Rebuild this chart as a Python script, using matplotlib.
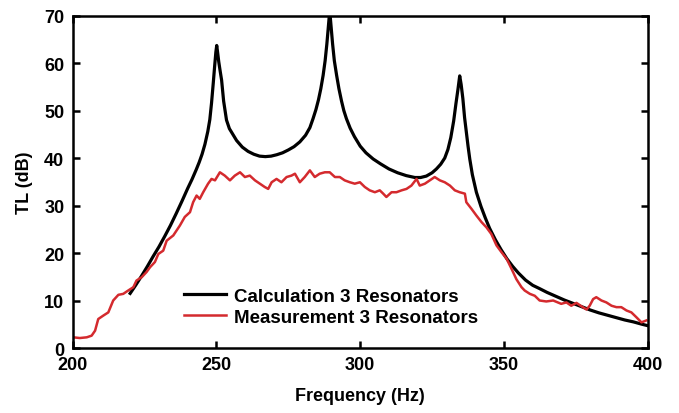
import matplotlib
matplotlib.use("Agg")
import matplotlib.pyplot as plt

# calculated transmission loss, 3 resonators
calc_freq = [220, 222, 224, 226, 228, 230, 232, 234, 236, 238, 240, 241.5, 243, 244, 245,
             246, 247, 247.7, 248.3, 248.9, 249.4, 249.8, 250.1, 250.4, 250.8, 251.3,
             251.8, 252.5, 253.5, 254.5, 255.7, 257, 259, 261, 263, 265, 267, 269, 271,
             273, 275, 277, 279, 281, 282.5, 283.6, 284.6, 285.5, 286.3, 287.1, 287.8,
             288.4, 288.9, 289.4, 289.9, 290.4, 291, 291.8, 292.6, 293.5, 294.3, 295.2,
             296.5, 298, 300, 302, 304.5, 307, 310, 313, 316, 319, 321, 323, 325, 326.5,
             328, 329.4, 330.5, 331.5, 332.5, 333.3, 334, 334.6, 335.1, 335.7, 336.3,
             336.9, 337.5, 338.1, 339, 340.4, 342, 343.5, 345, 347, 349, 351, 353, 355,
             357.5, 360, 362.4, 365, 368, 371, 374, 377, 380, 383, 386, 389, 392, 395,
             398, 400]
calc_tl = [11.5, 13.3, 15.2, 17.2, 19.3, 21.3, 23.5, 25.8, 28.3, 30.9, 33.6, 35.5, 37.6, 39.1, 40.8,
           42.9, 45.6, 48.1, 51.6, 55.8, 59.5, 62.3, 63.7, 62.3, 60.3, 58.3,
           56.4, 52.0, 48.0, 46.2, 45.0, 43.7, 42.3, 41.4, 40.8, 40.4, 40.3, 40.4, 40.7,
           41.1, 41.7, 42.4, 43.4, 44.8, 46.4, 48.3, 50.2, 52.3, 54.6, 57.4, 60.5,
           64.0, 67.5, 71.0, 67.5, 64.0, 60.5, 57.4, 54.6, 52.0, 50.0, 48.3,
           46.3, 44.5, 42.5, 41.1, 39.8, 38.8, 37.7, 36.9, 36.3, 35.9, 35.9, 36.2, 36.9, 37.7,
           38.7, 40.0, 41.8, 44.3, 47.8, 51.5, 54.5, 57.3, 55.5, 52.5, 48.5,
           45.5, 42.5, 39.8, 36.5, 32.8, 29.8, 27.4, 25.2, 22.8, 20.7, 18.8, 17.2, 15.8,
           14.3, 13.2, 12.5, 11.7, 10.9, 10.1, 9.4, 8.7, 8.0, 7.4, 6.9, 6.4, 5.9, 5.5,
           5.0, 4.7]

# measured transmission loss, 3 resonators
meas_freq = [200.2, 202.5, 204.9, 206.6, 207.8, 208.9, 210.6, 212.4, 214.1, 215.9,
             217.6, 219.3, 221.1, 222.2, 224, 225.7, 226.9, 228.6, 229.8, 231.5,
             232.7, 235, 237.3, 239, 240.8, 241.9, 243.1, 244.2, 245.4, 247.1,
             248.3, 249.5, 251.2, 252.9, 254.7, 256.4, 258.2, 259.9, 261.6, 263.4,
             265.1, 266.8, 268, 269.2, 270.9, 272.6, 274.4, 276.1, 277.3, 279,
             280.7, 282.5, 284.2, 285.9, 287.7, 289.4, 291.2, 292.9, 294.6, 296.4,
             298.1, 299.9, 301.6, 303.3, 305.1, 306.8, 308, 309.1, 310.9, 312.6,
             314.4, 316.1, 317.8, 319.6, 320.7, 322.5, 324.2, 325.9, 327.7, 329.4,
             331.2, 332.9, 334.6, 336.4, 336.9, 338.7, 340.4, 342.2, 343.9, 345.6,
             347.4, 349.1, 350.9, 352.6, 354.3, 356.1, 357.2, 359, 360.7, 362.4,
             364.7, 367.1, 369.9, 371.7, 373.4, 375.2, 376.9, 378.7, 379.8, 381,
             382.1, 383.9, 385.6, 387.4, 389.1, 390.8, 392.6, 394.3, 396, 397.8,
             399.5]
meas_tl = [2.25, 2.1, 2.25, 2.6, 3.65, 6.1, 6.8, 7.5, 10, 11.2,
           11.4, 12.1, 12.8, 14.2, 14.9, 16, 17, 18.1, 19.8, 20.5,
           22.6, 23.7, 25.8, 27.6, 28.6, 30.7, 32.1, 31.4, 32.8, 34.6,
           35.6, 35.3, 37.0, 36.3, 35.3, 36.3, 37.0, 36, 36.3, 35.3,
           34.6, 33.9, 33.5, 34.9, 35.6, 34.9, 36, 36.3, 36.7, 34.9,
           36, 37.4, 36, 36.7, 37, 37, 36, 36, 35.3, 34.9,
           34.6, 34.9, 33.9, 33.2, 32.8, 33.2, 32.5, 31.8, 32.8, 32.8,
           33.2, 33.5, 34.2, 35.6, 34.2, 34.6, 35.3, 36, 35.3, 34.9,
           34.2, 33.2, 32.8, 32.5, 30.7, 29.3, 27.9, 26.5, 25.4, 24.0,
           21.6, 20.2, 18.8, 16.7, 14.5, 12.8, 12.1, 11.4, 11.0, 10.0,
           9.8, 10, 9.3, 9.6, 8.9, 9.5, 8.8, 8.1, 8.9, 10.3,
           10.7, 10, 9.6, 8.9, 8.6, 8.6, 7.9, 7.5, 6.5, 5.4,
           5.8]

x_ticks = [200, 250, 300, 350, 400]
y_ticks = [0, 10, 20, 30, 40, 50, 60, 70]

plt.rcParams["font.family"] = ["Liberation Sans", "DejaVu Sans"]
plt.rcParams["font.weight"] = "bold"

fig = plt.figure(figsize=(6.79, 4.14), dpi=100)
ax = fig.add_axes([0.107, 0.157, 0.847, 0.803])

ax.plot(calc_freq, calc_tl, color="black", lw=2.3, label="Calculation 3 Resonators",
        solid_joinstyle="round")
ax.plot(meas_freq, meas_tl, color="#d42a2e", lw=1.8, label="Measurement 3 Resonators")

ax.set_xlim(200, 400)
ax.set_ylim(0, 70)
ax.set_xticks(x_ticks)
ax.set_yticks(y_ticks)
ax.tick_params(direction="in", length=5, width=1.8, top=True, right=True,
               labelsize=13, pad=6)
for lab in ax.get_xticklabels() + ax.get_yticklabels():
    lab.set_fontweight("bold")
for sp in ax.spines.values():
    sp.set_linewidth(1.8)

ax.set_xlabel("Frequency (Hz)", fontsize=13, fontweight="bold", labelpad=10)
ax.set_ylabel("TL (dB)", fontsize=13, fontweight="bold", labelpad=8)

ax.legend(loc="center left", bbox_to_anchor=(0.178, 0.124), frameon=False,
          handlelength=2.2, handletextpad=0.45, labelspacing=0.2,
          borderpad=0, prop={"weight": "bold", "size": 13.5})

fig.savefig("out.png", dpi=100)
